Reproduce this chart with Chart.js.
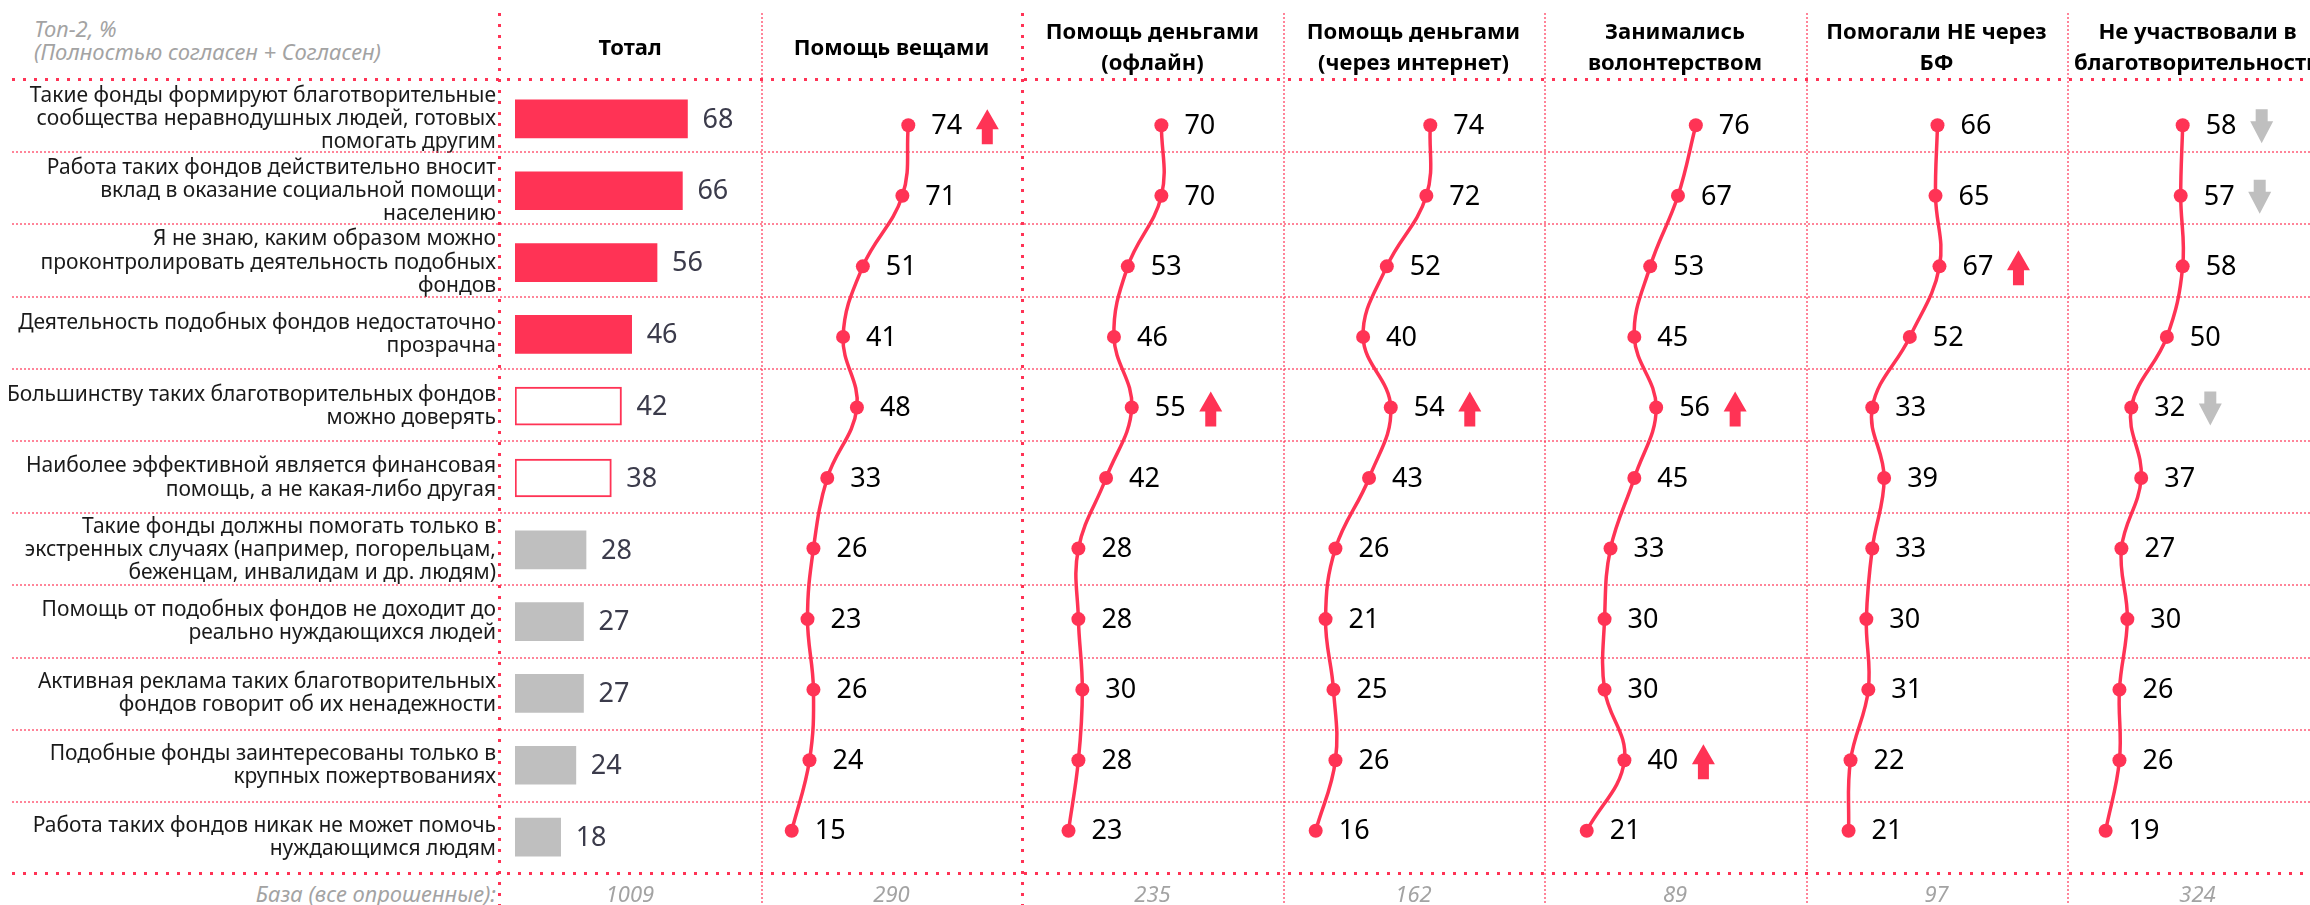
<!DOCTYPE html>
<html lang="ru">
<head>
<meta charset="utf-8">
<title>Отношение к благотворительным фондам</title>
<script src="https://cdn.jsdelivr.net/npm/chart.js@4.4.1/dist/chart.umd.min.js"></script>
<style>
  html, body { margin: 0; padding: 0; background: #fff; }
  body {
    position: relative; width: 2310px; height: 905px; overflow: hidden;
    font-family: 'Noto Sans', sans-serif;
  }
  canvas { position: absolute; }
  .rule { position: absolute; }
  .head {
    position: absolute; top: 6px; height: 80px;
    display: flex; align-items: center; justify-content: center;
    text-align: center; white-space: nowrap;
    font-weight: bold; font-size: 22px; line-height: 31px; color: #000;
  }
  .note {
    position: absolute; left: 34px; top: 17px;
    font-style: italic; font-size: 22px; line-height: 23px; color: #a3a3a3;
    white-space: nowrap;
  }
  .base {
    position: absolute; top: 878px; height: 30px; line-height: 30px;
    font-style: italic; font-size: 22px; color: #a3a3a3; white-space: nowrap;
  }
</style>
</head>
<body>

<div class="note">Топ-2, %<br>(Полностью согласен + Согласен)</div>
<div class="base" style="left:0; width:496px; text-align:right;">База (все опрошенные):</div>

<canvas id="totalChart" width="761" height="790" style="left:0; top:83px;"></canvas>

<script>
// Утверждения (строки таблицы)
var statements = [
  ['Такие фонды формируют благотворительные', 'сообщества неравнодушных людей, готовых', 'помогать другим'],
  ['Работа таких фондов действительно вносит', 'вклад в оказание социальной помощи', 'населению'],
  ['Я не знаю, каким образом можно', 'проконтролировать деятельность подобных', 'фондов'],
  ['Деятельность подобных фондов недостаточно', 'прозрачна'],
  ['Большинству таких благотворительных фондов', 'можно доверять'],
  ['Наиболее эффективной является финансовая', 'помощь, а не какая-либо другая'],
  ['Такие фонды должны помогать только в', 'экстренных случаях (например, погорельцам,', 'беженцам, инвалидам и др. людям)'],
  ['Помощь от подобных фондов не доходит до', 'реально нуждающихся людей'],
  ['Активная реклама таких благотворительных', 'фондов говорит об их ненадежности'],
  ['Подобные фонды заинтересованы только в', 'крупных пожертвованиях'],
  ['Работа таких фондов никак не может помочь', 'нуждающимся людям']
];

// Тотал, %
var totalValues = [68, 66, 56, 46, 42, 38, 28, 27, 27, 24, 18];

// Группы участия в благотворительности, %
var veshchamiValues  = [74, 71, 51, 41, 48, 33, 26, 23, 26, 24, 15];
var oflainValues     = [70, 70, 53, 46, 55, 42, 28, 28, 30, 28, 23];
var internetValues   = [74, 72, 52, 40, 54, 43, 26, 21, 25, 26, 16];
var volonteryValues  = [76, 67, 53, 45, 56, 45, 33, 30, 30, 40, 21];
var neCherezBfValues = [66, 65, 67, 52, 33, 39, 33, 30, 31, 22, 21];
var neUchastValues   = [58, 57, 58, 50, 32, 37, 27, 30, 26, 26, 19];

// Значимые отличия от тотала: 1 — выше, -1 — ниже
var veshchamiTrend  = [1, 0, 0, 0, 0, 0, 0, 0, 0, 0, 0];
var oflainTrend     = [0, 0, 0, 0, 1, 0, 0, 0, 0, 0, 0];
var internetTrend   = [0, 0, 0, 0, 1, 0, 0, 0, 0, 0, 0];
var volonteryTrend  = [0, 0, 0, 0, 1, 0, 0, 0, 0, 1, 0];
var neCherezBfTrend = [0, 0, 1, 0, 0, 0, 0, 0, 0, 0, 0];
var neUchastTrend   = [-1, -1, 0, 0, -1, 0, 0, 0, 0, 0, 0];

var columnTitles = [
  ['Тотал'],
  ['Помощь вещами'],
  ['Помощь деньгами', '(офлайн)'],
  ['Помощь деньгами', '(через интернет)'],
  ['Занимались', 'волонтерством'],
  ['Помогали НЕ через', 'БФ'],
  ['Не участвовали в', 'благотворительности']
];

// Размер базы по колонкам
var baseCounts = [1009, 290, 235, 162, 89, 97, 324];

var RED = '#ff3355';
var GREY = '#bfbfbf';

// Раскраска столбиков тотала
var barFill   = [RED, RED, RED, RED, '#ffffff', '#ffffff', GREY, GREY, GREY, GREY, GREY];
var barBorder = [RED, RED, RED, RED, RED, RED, GREY, GREY, GREY, GREY, GREY];
var barBorderW = [0, 0, 0, 0, 2, 2, 0, 0, 0, 0, 0];

// Границы колонок таблицы
var colLeft = [499, 761, 1022, 1283, 1544, 1806, 2067];
var colRight = [761, 1022, 1283, 1544, 1806, 2067, 2328];
var ROW_TOP = 79, ROW_H = 72.2, ROWS = 11;

// Сетка таблицы из точек
function addRule(x, y, w, h, bold, vertical) {
  var d = document.createElement('div');
  d.className = 'rule';
  d.style.left = x + 'px'; d.style.top = y + 'px';
  d.style.width = w + 'px'; d.style.height = h + 'px';
  var dir = vertical ? 'to bottom' : 'to right';
  if (bold) {
    d.style.background = 'repeating-linear-gradient(' + dir + ', ' + RED + ' 0 3px, transparent 3px 11px)';
  } else {
    d.style.background = 'repeating-linear-gradient(' + dir + ', rgba(255,51,85,0.6) 0 2px, transparent 2px 4px)';
  }
  document.body.appendChild(d);
}

addRule(12, ROW_TOP - 1, 2310, 3, true, false);
addRule(12, ROW_TOP + ROWS * ROW_H - 1, 2310, 3, true, false);
for (var r = 1; r < ROWS; r++) {
  addRule(12, Math.round(ROW_TOP + r * ROW_H), 2310, 2, false, false);
}
colLeft.forEach(function (x, i) {
  var bold = (i === 0 || i === 2);
  addRule(bold ? x - 1 : x, 13, bold ? 3 : 2, 892, bold, true);
});

// Заголовки и базы колонок
columnTitles.forEach(function (t, i) {
  var h = document.createElement('div');
  h.className = 'head';
  h.style.left = colLeft[i] + 'px';
  h.style.width = (colRight[i] - colLeft[i]) + 'px';
  h.innerHTML = t.join('<br>');
  document.body.appendChild(h);

  var b = document.createElement('div');
  b.className = 'base';
  b.style.left = colLeft[i] + 'px';
  b.style.width = (colRight[i] - colLeft[i]) + 'px';
  b.style.textAlign = 'center';
  b.textContent = baseCounts[i];
  document.body.appendChild(b);
});

// Подписи значений у столбиков
var barValueLabels = {
  id: 'barValueLabels',
  afterDatasetsDraw: function (chart) {
    var ctx = chart.ctx;
    var ds = chart.data.datasets[0];
    ctx.save();
    ctx.font = '27px "Noto Sans"';
    ctx.fillStyle = '#3b3b4b';
    ctx.textAlign = 'left';
    ctx.textBaseline = 'middle';
    chart.getDatasetMeta(0).data.forEach(function (bar, i) {
      ctx.fillText(ds.data[i], bar.x + 15, bar.y + 1);
    });
    ctx.restore();
  }
};

function drawArrow(ctx, cx, cy, dir) {
  ctx.save();
  ctx.beginPath();
  if (dir > 0) {
    ctx.fillStyle = RED;
    ctx.moveTo(cx, cy - 17);
    ctx.lineTo(cx + 11.5, cy + 3);
    ctx.lineTo(cx + 5.5, cy + 3);
    ctx.lineTo(cx + 5.5, cy + 18);
    ctx.lineTo(cx - 5.5, cy + 18);
    ctx.lineTo(cx - 5.5, cy + 3);
    ctx.lineTo(cx - 11.5, cy + 3);
  } else {
    ctx.fillStyle = GREY;
    ctx.moveTo(cx - 6, cy - 17);
    ctx.lineTo(cx + 6, cy - 17);
    ctx.lineTo(cx + 6, cy - 5);
    ctx.lineTo(cx + 11.5, cy - 5);
    ctx.lineTo(cx, cy + 17);
    ctx.lineTo(cx - 11.5, cy - 5);
    ctx.lineTo(cx - 6, cy - 5);
  }
  ctx.closePath();
  ctx.fill();
  ctx.restore();
}

// Подписи значений у точек и стрелки значимости
var pointLabels = {
  id: 'pointLabels',
  afterDatasetsDraw: function (chart, args, opts) {
    var ctx = chart.ctx;
    var ds = chart.data.datasets[0];
    var trend = opts.trend || [];
    chart.getDatasetMeta(0).data.forEach(function (pt, i) {
      ctx.save();
      ctx.font = '27px "Noto Sans"';
      ctx.fillStyle = '#000';
      ctx.textAlign = 'left';
      ctx.textBaseline = 'middle';
      ctx.fillText(ds.data[i], pt.x + 23, pt.y + 1);
      ctx.restore();
      if (trend[i]) drawArrow(ctx, pt.x + 79, pt.y + 1, trend[i]);
    });
  }
};

// Тотал: горизонтальные столбики с формулировками на оси
new Chart(document.getElementById('totalChart'), {
  type: 'bar',
  data: {
    labels: statements,
    datasets: [{
      data: totalValues,
      backgroundColor: barFill,
      borderColor: barBorder,
      borderWidth: barBorderW,
      borderSkipped: false,
      barThickness: 38
    }]
  },
  options: {
    indexAxis: 'y',
    responsive: false,
    animation: false,
    layout: { padding: 0 },
    plugins: { legend: { display: false }, tooltip: { enabled: false } },
    scales: {
      x: { display: false, min: 0, max: 97 },
      y: {
        grid: { display: false, drawTicks: false },
        border: { display: false },
        ticks: {
          autoSkip: false,
          padding: 19,
          color: '#1a1a1a',
          font: { family: 'Noto Sans', size: 21, lineHeight: 1.1 }
        },
        afterFit: function (scale) {
          // подписи не должны сжимать область столбиков
          scale.width = 515;
          scale.paddingTop = 0;
          scale.paddingBottom = 0;
        }
      }
    }
  },
  plugins: [barValueLabels]
});

// Колонки групп: сглаженные линии
function lineColumn(index, values, trend) {
  var cv = document.createElement('canvas');
  cv.width = colRight[index] - colLeft[index];
  cv.height = 790;
  cv.style.left = colLeft[index] + 'px';
  cv.style.top = '83px';
  document.body.appendChild(cv);

  new Chart(cv, {
    type: 'line',
    data: {
      labels: statements,
      datasets: [{
        data: values,
        borderColor: RED,
        borderWidth: 3.5,
        tension: 0.4,
        fill: false,
        pointRadius: 7,
        pointBackgroundColor: RED,
        pointBorderWidth: 0
      }]
    },
    options: {
      indexAxis: 'y',
      responsive: false,
      animation: false,
      layout: { padding: 0 },
      plugins: {
        legend: { display: false },
        tooltip: { enabled: false },
        pointLabels: { trend: trend }
      },
      scales: {
        x: { display: false, min: 3, max: 128 },
        y: { display: false, offset: true }
      }
    },
    plugins: [pointLabels]
  });
}

lineColumn(1, veshchamiValues, veshchamiTrend);
lineColumn(2, oflainValues, oflainTrend);
lineColumn(3, internetValues, internetTrend);
lineColumn(4, volonteryValues, volonteryTrend);
lineColumn(5, neCherezBfValues, neCherezBfTrend);
lineColumn(6, neUchastValues, neUchastTrend);
</script>
</body>
</html>
